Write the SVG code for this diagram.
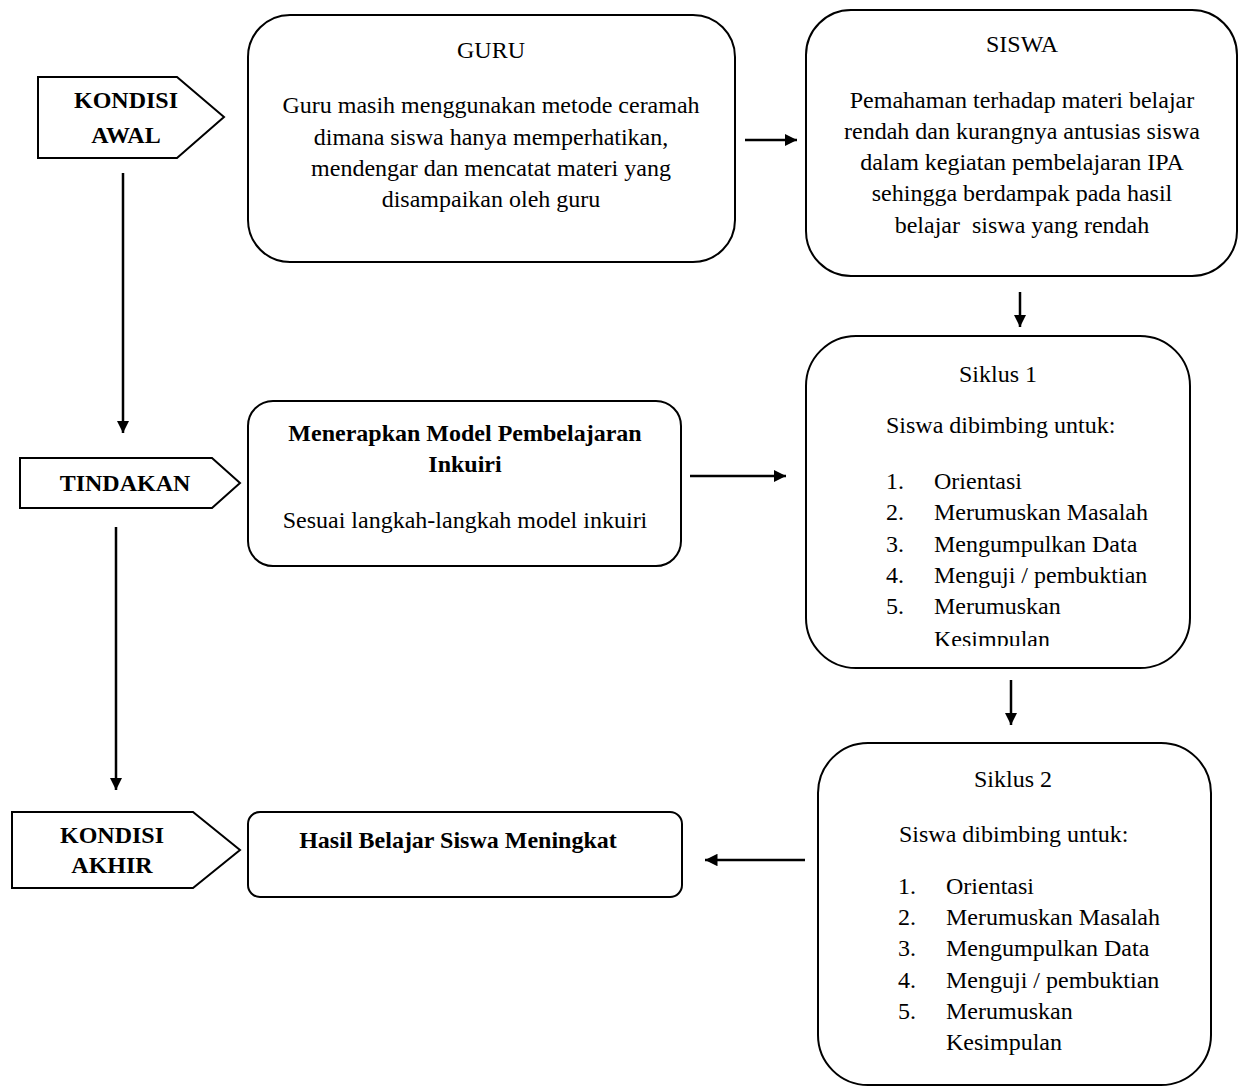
<svg xmlns="http://www.w3.org/2000/svg" width="1239" height="1088" viewBox="0 0 1239 1088" font-family="'Liberation Serif', Tinos, 'Times New Roman', Times, 'DejaVu Serif', 'Noto Serif', serif">
<style>
.box{fill:#fff;stroke:#000;stroke-width:2}
.t{font-family:'Liberation Serif',Tinos,'Times New Roman',Times,'DejaVu Serif','Noto Serif',serif;font-size:24px;fill:#000}
.b{font-weight:bold}
.c{text-anchor:middle}
.conn line{stroke:#000;stroke-width:2.5}
</style>
<defs>
<marker id="ah" viewBox="0 0 10 10" refX="10" refY="5" markerWidth="5" markerHeight="5" orient="auto" markerUnits="strokeWidth">
<path d="M0,0 L10,5 L0,10 z" fill="#000"/>
</marker>
<clipPath id="clip1"><rect x="806" y="336" width="384" height="310"/></clipPath>
</defs>
<rect width="1239" height="1088" fill="#fff"/>

<g id="kondisi-awal">
<polygon class="box" points="38,77 177,77 224,117 177,158 38,158"/>
<text class="t b c" x="126" y="108">KONDISI</text>
<text class="t b c" x="126" y="143">AWAL</text>
</g>

<g id="guru">
<rect class="box" x="248" y="15" width="487" height="247" rx="42"/>
<text class="t c" x="491" y="58">GURU</text>
<text class="t c" x="491" y="113">Guru masih menggunakan metode ceramah</text>
<text class="t c" x="491" y="145">dimana siswa hanya memperhatikan,</text>
<text class="t c" x="491" y="176">mendengar dan mencatat materi yang</text>
<text class="t c" x="491" y="207">disampaikan oleh guru</text>
</g>

<g id="siswa">
<rect class="box" x="806" y="10" width="431" height="266" rx="45"/>
<text class="t c" x="1022" y="52">SISWA</text>
<text class="t c" x="1022" y="108">Pemahaman terhadap materi belajar</text>
<text class="t c" x="1022" y="139">rendah dan kurangnya antusias siswa</text>
<text class="t c" x="1022" y="170">dalam kegiatan pembelajaran IPA</text>
<text class="t c" x="1022" y="201">sehingga berdampak pada hasil</text>
<text class="t c" x="1022" y="233" xml:space="preserve">belajar  siswa yang rendah</text>
</g>

<g id="tindakan">
<polygon class="box" points="20,458 212,458 240,483 212,508 20,508"/>
<text class="t b c" x="125" y="491">TINDAKAN</text>
</g>

<g id="menerapkan">
<rect class="box" x="248" y="401" width="433" height="165" rx="25"/>
<text class="t b c" x="465" y="441">Menerapkan Model Pembelajaran</text>
<text class="t b c" x="465" y="472">Inkuiri</text>
<text class="t c" x="465" y="528">Sesuai langkah-langkah model inkuiri</text>
</g>

<g id="siklus1">
<rect class="box" x="806" y="336" width="384" height="332" rx="50"/>
<g clip-path="url(#clip1)">
<text class="t c" x="998" y="382">Siklus 1</text>
<text class="t" x="886" y="433">Siswa dibimbing untuk:</text>
<text class="t" x="886" y="489">1.</text><text class="t" x="934" y="489">Orientasi</text>
<text class="t" x="886" y="520">2.</text><text class="t" x="934" y="520">Merumuskan Masalah</text>
<text class="t" x="886" y="552">3.</text><text class="t" x="934" y="552">Mengumpulkan Data</text>
<text class="t" x="886" y="583">4.</text><text class="t" x="934" y="583">Menguji / pembuktian</text>
<text class="t" x="886" y="614">5.</text><text class="t" x="934" y="614">Merumuskan</text>
<text class="t" x="934" y="647">Kesimpulan</text>
</g>
</g>

<g id="kondisi-akhir">
<polygon class="box" points="12,812 193,812 240,850 193,888 12,888"/>
<text class="t b c" x="112" y="843">KONDISI</text>
<text class="t b c" x="112" y="873">AKHIR</text>
</g>

<g id="hasil">
<rect class="box" x="248" y="812" width="434" height="85" rx="12"/>
<text class="t b c" x="458" y="848">Hasil Belajar Siswa Meningkat</text>
</g>

<g id="siklus2">
<rect class="box" x="818" y="743" width="393" height="342" rx="50"/>
<text class="t c" x="1013" y="787">Siklus 2</text>
<text class="t" x="899" y="842">Siswa dibimbing untuk:</text>
<text class="t" x="898" y="894">1.</text><text class="t" x="946" y="894">Orientasi</text>
<text class="t" x="898" y="925">2.</text><text class="t" x="946" y="925">Merumuskan Masalah</text>
<text class="t" x="898" y="956">3.</text><text class="t" x="946" y="956">Mengumpulkan Data</text>
<text class="t" x="898" y="988">4.</text><text class="t" x="946" y="988">Menguji / pembuktian</text>
<text class="t" x="898" y="1019">5.</text><text class="t" x="946" y="1019">Merumuskan</text>
<text class="t" x="946" y="1050">Kesimpulan</text>
</g>

<g id="connectors" class="conn">
<line x1="745" y1="140" x2="797" y2="140" marker-end="url(#ah)"/>
<line x1="1020" y1="292" x2="1020" y2="327" marker-end="url(#ah)"/>
<line x1="690" y1="476" x2="786" y2="476" marker-end="url(#ah)"/>
<line x1="1011" y1="680" x2="1011" y2="725" marker-end="url(#ah)"/>
<line x1="805" y1="860" x2="705" y2="860" marker-end="url(#ah)"/>
<line x1="123" y1="173" x2="123" y2="433" marker-end="url(#ah)"/>
<line x1="116" y1="527" x2="116" y2="790" marker-end="url(#ah)"/>
</g>
</svg>
